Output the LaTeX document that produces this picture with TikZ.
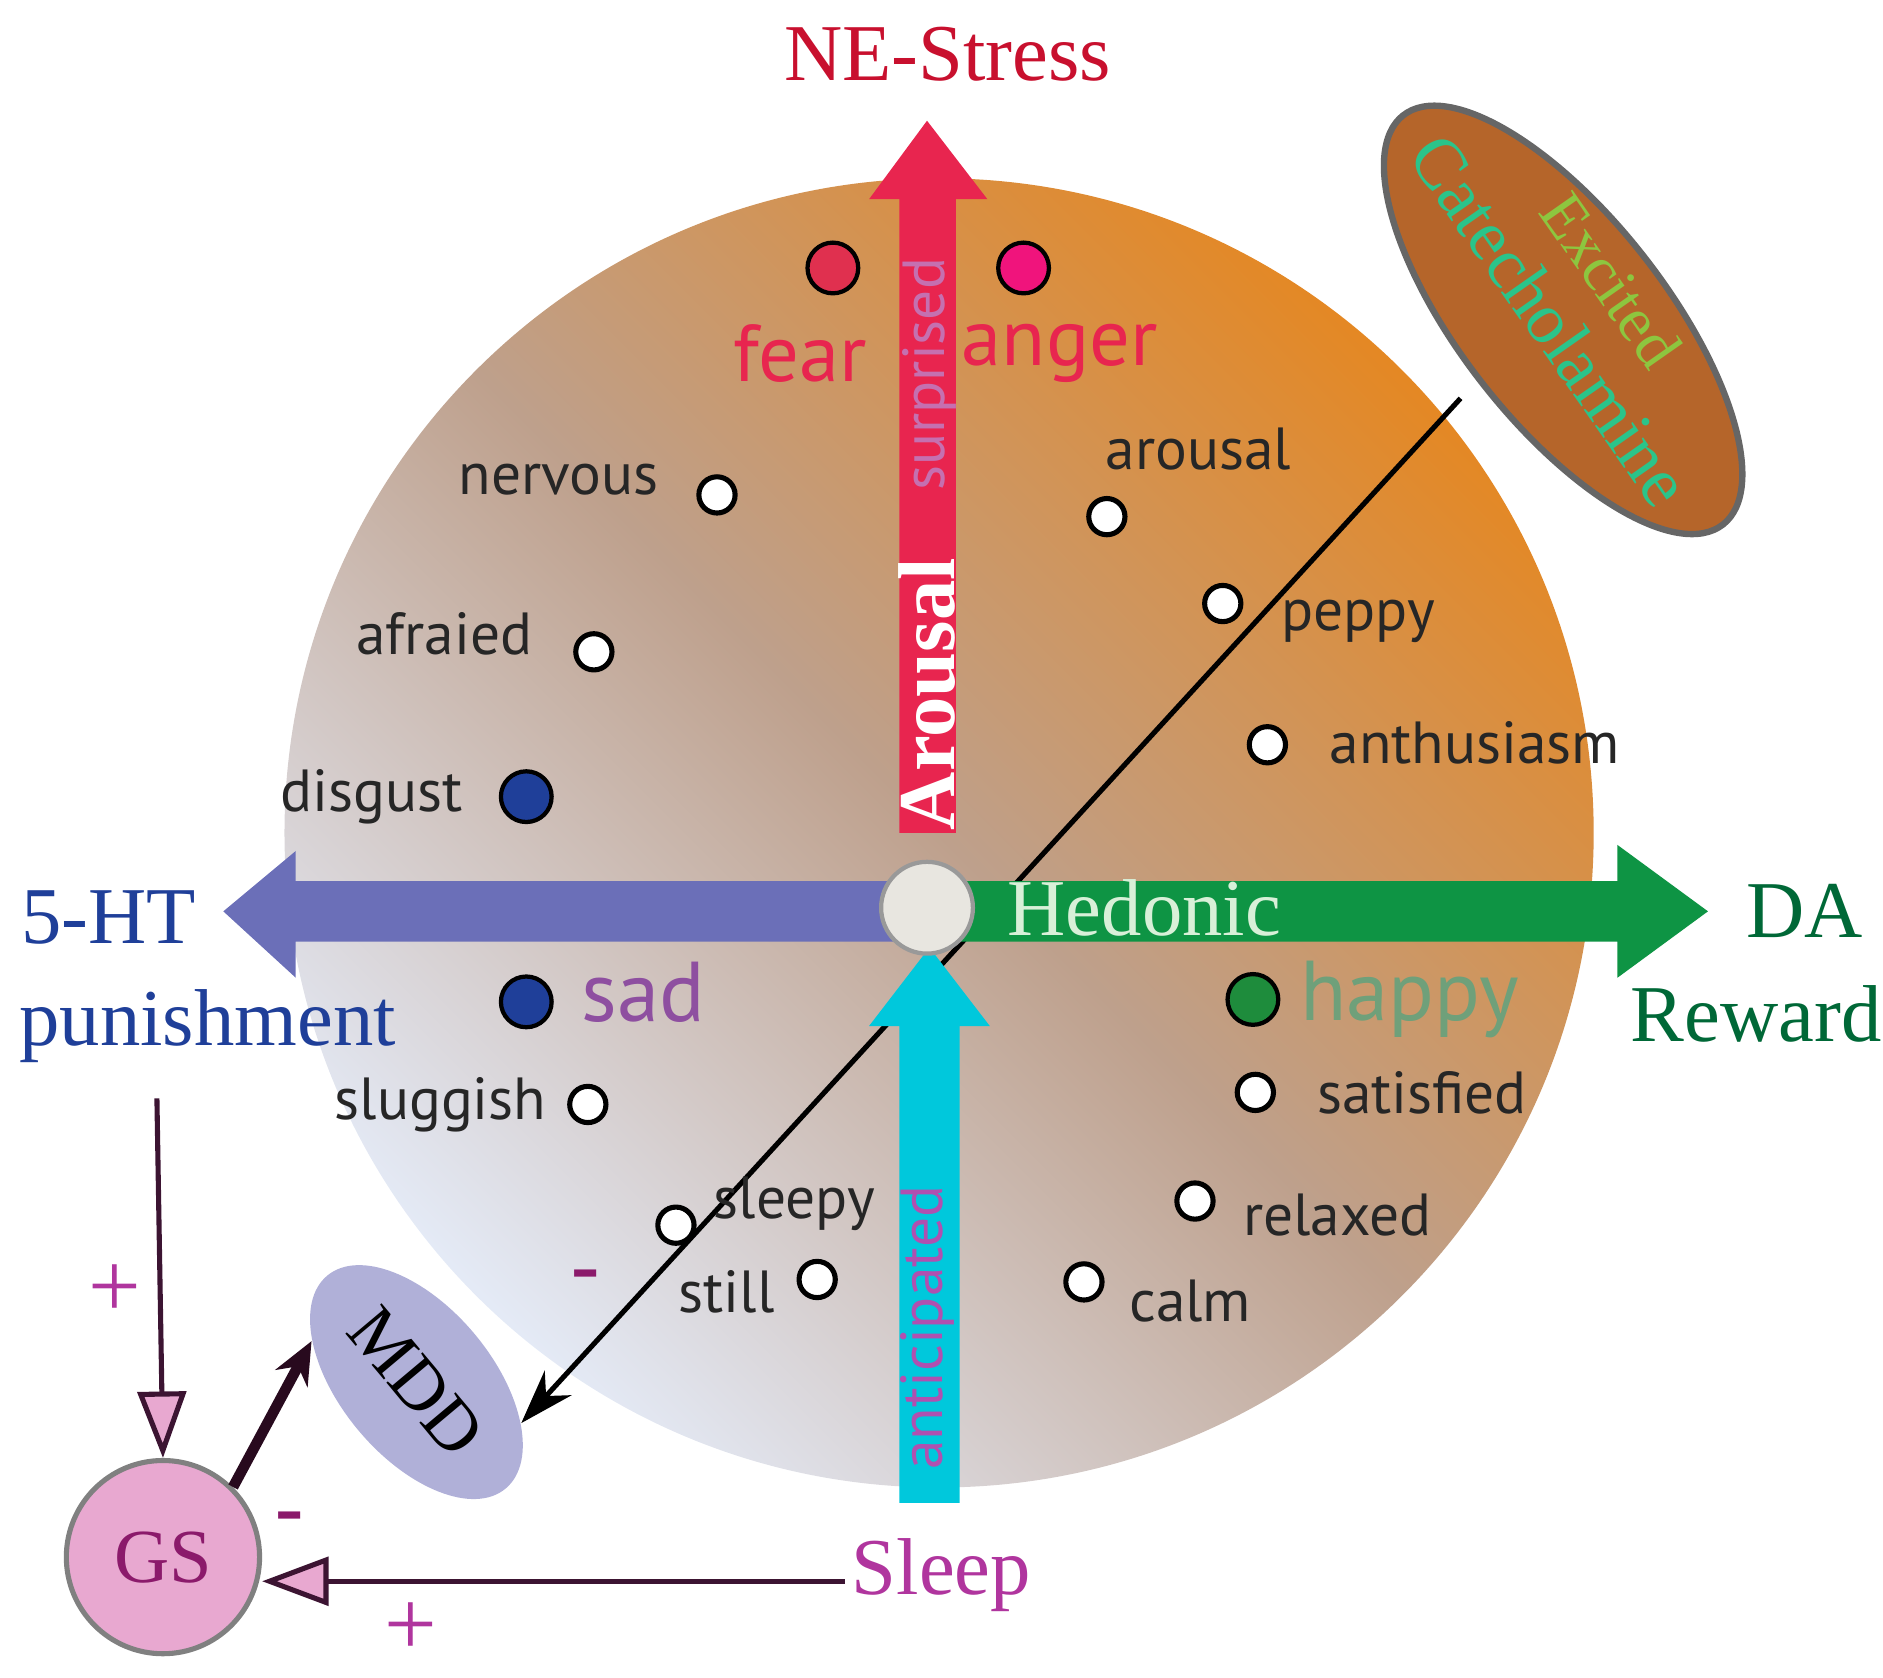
\documentclass[tikz,border=0pt]{standalone}
\usepackage{fontspec}
\setmainfont{Liberation Serif}
\newfontfamily\lblsans{PT Sans}
\usetikzlibrary{shapes.geometric,arrows.meta}
\definecolor{crim}{RGB}{232,37,79}
\definecolor{cyanar}{RGB}{0,200,220}
\definecolor{purar}{RGB}{107,111,184}
\definecolor{grnar}{RGB}{14,148,68}
\definecolor{navy}{RGB}{31,63,153}
\definecolor{brn}{RGB}{181,101,42}
\definecolor{gspink}{RGB}{232,168,208}
\definecolor{mag}{RGB}{176,53,158}
\definecolor{darkmag}{RGB}{139,26,107}
\definecolor{linepl}{RGB}{60,20,50}
\definecolor{linedk}{RGB}{40,10,30}
\definecolor{paleblue}{RGB}{228,234,246}
\definecolor{bgorange}{RGB}{228,136,36}
\definecolor{dkgreen}{RGB}{0,104,55}
\begin{document}
\begin{tikzpicture}[x=0.01cm,y=-0.01cm,
  dot/.style={circle,draw=black,line width=1.2pt,fill=white,minimum size=0.3cm,inner sep=0},
  bigdot/.style={circle,draw=black,line width=1pt,minimum size=0.42cm,inner sep=0},
  lbl/.style={font=\lblsans\fontsize{14}{14}\selectfont,text=black!85},
  ttl/.style={font=\fontsize{19}{19}\selectfont},
  sign/.style={font=\bfseries\fontsize{20}{20}\selectfont,text=darkmag},
  plus/.style={font=\fontsize{22}{22}\selectfont,text=mag}]
\useasboundingbox (0,0) rectangle (1560,1390);
% background disc
\shade[shading=axis,top color=bgorange,bottom color=paleblue,middle color={rgb,255:red,190;green,160;blue,140},shading angle=-45]
  (778,690) circle [radius=5.42cm];
% ellipses
\node[ellipse,draw=black!60,line width=1.5pt,fill=brn,minimum width=4.3cm,minimum height=1.7cm,rotate=-52] (cat) at (1295,265) {};
\node[rotate=-55,text={rgb,255:red,141;green,198;blue,63},font=\fontsize{15}{15}\selectfont] (exc) at (1335,232) {Excited};
\node[rotate=-55,text={rgb,255:red,43;green,196;blue,138},font=\fontsize{17}{17}\selectfont] (catl) at (1285,265) {Catecholamine};
\node[ellipse,fill={rgb,255:red,176;green,176;blue,216},minimum width=2.3cm,minimum height=1.25cm,rotate=-50] (mdd) at (345,1145) {};
\node[rotate=-50,font=\fontsize{17}{17}\selectfont] (mddl) at (345,1145) {MDD};
\node[circle,draw=black!50,line width=1.2pt,fill=gspink,minimum size=1.6cm,text=darkmag,font=\fontsize{18}{18}\selectfont] (gs) at (135,1290) {GS};
% diagonal
\coordinate (dtop) at (1210,330);
\draw[line width=1.2pt,-{Stealth[length=0.45cm,width=0.3cm]}] (dtop) -- (mdd.north east);
% arrows
\fill[crim] (745,690) -- (745,165) -- (720,165) -- (768,100) -- (818,165) -- (792,165) -- (792,690) -- cycle;
\fill[cyanar] (745,1245) -- (745,850) -- (720,850) -- (770,785) -- (820,850) -- (795,850) -- (795,1245) -- cycle;
\fill[purar] (775,730) -- (245,730) -- (245,705) -- (185,755) -- (245,810) -- (245,780) -- (775,780) -- cycle;
\fill[grnar] (775,730) -- (1340,730) -- (1340,700) -- (1415,755) -- (1340,810) -- (1340,780) -- (775,780) -- cycle;
% center
\node[circle,draw=black!40,line width=1pt,fill={rgb,255:red,232;green,230;blue,224},minimum size=0.76cm] (ctr) at (768,752) {};
% axis texts
\node[ttl,text={rgb,255:red,200;green,16;blue,46}] (ne) at (785,45) {NE-Stress};
\node[ttl,text=navy] (ht) at (90,760) {5-HT};
\node[ttl,text=navy] (pun) at (172,850) {punishment};
\node[ttl,text=dkgreen] (da) at (1495,755) {DA};
\node[ttl,text=dkgreen] (rew) at (1455,840) {Reward};
\node[ttl,text=mag] (sleep) at (780,1305) {Sleep};
\node[font=\fontsize{19}{19}\selectfont,text={rgb,255:red,216;green,240;blue,216}] (hed) at (948,752) {Hedonic};
\node[rotate=90,font=\bfseries\fontsize{19}{19}\selectfont,text=white] (aro) at (768,575) {Arousal};
\node[rotate=90,font=\lblsans\fontsize{14}{14}\selectfont,text={rgb,255:red,197;green,112;blue,176}] (sur) at (770,310) {surprised};
\node[rotate=90,font=\lblsans\fontsize{14}{14}\selectfont,text={rgb,255:red,176;green,80;blue,176}] (ant) at (768,1100) {anticipated};
% emotions
\node[bigdot,fill={rgb,255:red,224;green,48;blue,79}] (dfear) at (690,222) {};
\node[bigdot,fill={rgb,255:red,240;green,20;blue,124}] (danger) at (848,222) {};
\node[font=\lblsans\fontsize{19}{19}\selectfont,text=crim] (fear) at (663,293) {fear};
\node[font=\lblsans\fontsize{19}{19}\selectfont,text=crim] (anger) at (878,293) {anger};
\node[bigdot,fill=navy] (ddis) at (436,660) {};
\node[lbl] (dis) at (308,660) {disgust};
\node[bigdot,fill=navy] (dsad) at (436,830) {};
\node[font=\lblsans\fontsize{20}{20}\selectfont,text={rgb,255:red,142;green,79;blue,160}] (sad) at (533,822) {sad};
\node[bigdot,fill={rgb,255:red,30;green,140;blue,60}] (dhap) at (1038,828) {};
\node[font=\lblsans\fontsize{20}{20}\selectfont,text={rgb,255:red,111;green,160;blue,122}] (hap) at (1168,828) {happy};
\node[dot] (dnerv) at (594,410) {}; \node[lbl] (nerv) at (463,397) {nervous};
\node[dot] (daro) at (917,428) {}; \node[lbl] (arol) at (993,372) {arousal};
\node[dot] (dafr) at (492,540) {}; \node[lbl] (afr) at (368,525) {afraied};
\node[dot] (dpep) at (1013,500) {}; \node[lbl] (pep) at (1125,515) {peppy};
\node[dot] (danth) at (1050,617) {}; \node[lbl] (anth) at (1222,615) {anthusiasm};
\node[dot] (dslug) at (487,915) {}; \node[lbl] (slug) at (365,915) {sluggish};
\node[dot] (dsat) at (1040,905) {}; \node[lbl] (sat) at (1178,905) {satisfied};
\node[dot] (dslp) at (560,1015) {}; \node[lbl] (slp) at (658,997) {sleepy};
\node[dot] (drel) at (990,995) {}; \node[lbl] (rel) at (1108,1007) {relaxed};
\node[dot] (dstill) at (677,1060) {}; \node[lbl] (still) at (602,1070) {still};
\node[dot] (dcalm) at (898,1062) {}; \node[lbl] (calm) at (986,1078) {calm};
% signs
\node[sign] (m1) at (485,1062) {-};
\node[sign] (m2) at (240,1262) {-};
\node[plus] (p1) at (95,1070) {+};
\node[plus] (p2) at (340,1350) {+};
% connectors
\coordinate (punbot) at (130,910);
\coordinate (sleepw) at (700,1310);
\draw[line width=1.2pt,linepl,-{Triangle[open,fill=gspink,length=0.55cm,width=0.4cm]}] (punbot) -- (gs.north);
\draw[line width=1.2pt,linepl,-{Triangle[open,fill=gspink,length=0.55cm,width=0.4cm]}] (sleepw) -- (gs.east |- sleepw);
\draw[line width=2.5pt,linedk,-{Stealth[length=0.35cm,width=0.3cm]}] (gs.north east) -- (mdd.south west);
\end{tikzpicture}
\end{document}
